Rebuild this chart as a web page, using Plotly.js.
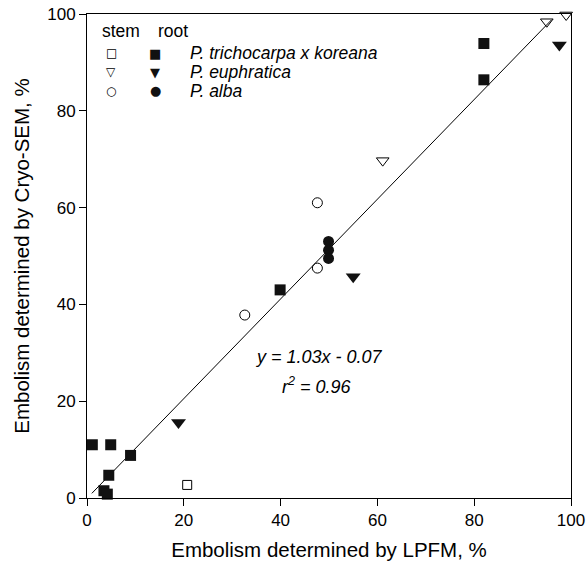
<!DOCTYPE html>
<html>
<head>
<meta charset="utf-8">
<script src="https://cdn.plot.ly/plotly-3.0.1.min.js"></script>
<style>html,body{margin:0;padding:0;background:#fff;}#chart{width:587px;height:565px;}</style>
</head>
<body>
<div id="chart"></div>
<script>
// Stem P. trichocarpa x koreana (open squares)
const stemTrichX = [20.7];
const stemTrichY = [2.7];
// Root P. trichocarpa x koreana (filled squares)
const rootTrichX = [1.1, 4.9, 4.5, 9.0, 3.5, 4.2, 39.9, 82.0, 82.0];
const rootTrichY = [11.0, 11.0, 4.7, 8.8, 1.5, 0.8, 43.0, 93.9, 86.4];
// Stem P. euphratica (open down triangles)
const stemEuphX = [61.1, 95.0, 99.0];
const stemEuphY = [69.7, 98.4, 99.8];
// Root P. euphratica (filled down triangles)
const rootEuphX = [18.9, 55.0, 97.6];
const rootEuphY = [15.6, 45.7, 93.6];
// Stem P. alba (open circles)
const stemAlbaX = [32.6, 47.6, 47.6];
const stemAlbaY = [37.8, 61.0, 47.5];
// Root P. alba (filled circles)
const rootAlbaX = [49.9, 49.9, 49.9];
const rootAlbaY = [53.0, 51.2, 49.5];
// Regression y = 1.03x - 0.07
const regSlope = 1.03;
const regIntercept = -0.07;
const regXRange = [1.0, 96.0];
const xTicks = [0, 20, 40, 60, 80, 100];
const yTicks = [0, 20, 40, 60, 80, 100];

const font = 'Liberation Sans, Arial, sans-serif';
const regY = regXRange.map(x => regSlope * x + regIntercept);

const traces = [
  {x: regXRange, y: regY, mode: 'lines', line: {color: '#000', width: 1}, hoverinfo: 'skip'},
  {x: stemTrichX, y: stemTrichY, mode: 'markers', marker: {symbol: 'square-open', size: 9, color: '#000', line: {width: 1}}},
  {x: rootTrichX, y: rootTrichY, mode: 'markers', marker: {symbol: 'square', size: 11, color: '#111'}},
  {x: stemEuphX, y: stemEuphY, mode: 'markers', marker: {symbol: 'triangle-down-open', size: 11, color: '#000', line: {width: 1}}},
  {x: rootEuphX, y: rootEuphY, mode: 'markers', marker: {symbol: 'triangle-down', size: 13, color: '#111'}},
  {x: stemAlbaX, y: stemAlbaY, mode: 'markers', marker: {symbol: 'circle-open', size: 10, color: '#000', line: {width: 1}}},
  {x: rootAlbaX, y: rootAlbaY, mode: 'markers', marker: {symbol: 'circle', size: 11, color: '#111'}}
];
traces.forEach(t => { t.cliponaxis = false; t.showlegend = false; });

// Legend built from annotations
const legendRows = [
  {open: '□', fill: '■', label: 'P. trichocarpa x koreana'},
  {open: '▽', fill: '▼', label: 'P. euphratica'},
  {open: '○', fill: '●', label: 'P. alba'}
];
const ann = [];
const pw = 484, ph = 484;
const px = v => v / pw, py = v => 1 - v / ph;
ann.push({xref: 'paper', yref: 'paper', x: px(13), y: py(17), text: 'stem', showarrow: false, xanchor: 'left', yanchor: 'middle', font: {family: font, size: 17.5, color: '#000'}});
ann.push({xref: 'paper', yref: 'paper', x: px(69), y: py(17), text: 'root', showarrow: false, xanchor: 'left', yanchor: 'middle', font: {family: font, size: 17.5, color: '#000'}});
const rowY = [39, 58, 77];
legendRows.forEach((r, i) => {
  ann.push({xref: 'paper', yref: 'paper', x: px(24), y: py(rowY[i]), text: r.open, showarrow: false, xanchor: 'center', yanchor: 'middle', font: {family: 'DejaVu Sans', size: 12, color: '#000'}});
  ann.push({xref: 'paper', yref: 'paper', x: px(68), y: py(rowY[i]), text: r.fill, showarrow: false, xanchor: 'center', yanchor: 'middle', font: {family: 'DejaVu Sans', size: 13, color: '#111'}});
  ann.push({xref: 'paper', yref: 'paper', x: px(101), y: py(rowY[i]), text: '<i>' + r.label + '</i>', showarrow: false, xanchor: 'left', yanchor: 'middle', font: {family: font, size: 17.5, color: '#000'}});
});
ann.push({xref: 'paper', yref: 'paper', x: px(232), y: py(343), text: '<i>y = 1.03x - 0.07</i>', showarrow: false, xanchor: 'center', yanchor: 'middle', font: {family: font, size: 18, color: '#000'}});
ann.push({xref: 'paper', yref: 'paper', x: px(230), y: py(371), text: '<i>r<sup>2</sup> = 0.96</i>', showarrow: false, xanchor: 'center', yanchor: 'middle', font: {family: font, size: 18, color: '#000'}});

const axisCommon = {
  showgrid: false, zeroline: false, showline: true, linecolor: '#000', linewidth: 1,
  mirror: true, ticks: 'outside', ticklen: 7, tickwidth: 1, tickcolor: '#000',
  tickfont: {family: font, size: 17, color: '#000'}, fixedrange: true
};
const layout = {
  width: 587, height: 565,
  margin: {l: 87, r: 16, t: 14, b: 67},
  paper_bgcolor: '#fff', plot_bgcolor: '#fff',
  showlegend: false,
  xaxis: Object.assign({}, axisCommon, {range: [0, 100], tickvals: xTicks, ticktext: xTicks.map(String), automargin: false,
    title: {text: 'Embolism determined by LPFM, %', font: {family: font, size: 20.5, color: '#000'}, standoff: 13}}),
  yaxis: Object.assign({}, axisCommon, {range: [0, 100], tickvals: yTicks, ticktext: yTicks.map(String), automargin: false,
    title: {text: 'Embolism determined by Cryo-SEM, %', font: {family: font, size: 20.5, color: '#000'}, standoff: 12}}),
  annotations: ann
};
Plotly.newPlot('chart', traces, layout, {displayModeBar: false, staticPlot: true});
</script>
</body>
</html>
